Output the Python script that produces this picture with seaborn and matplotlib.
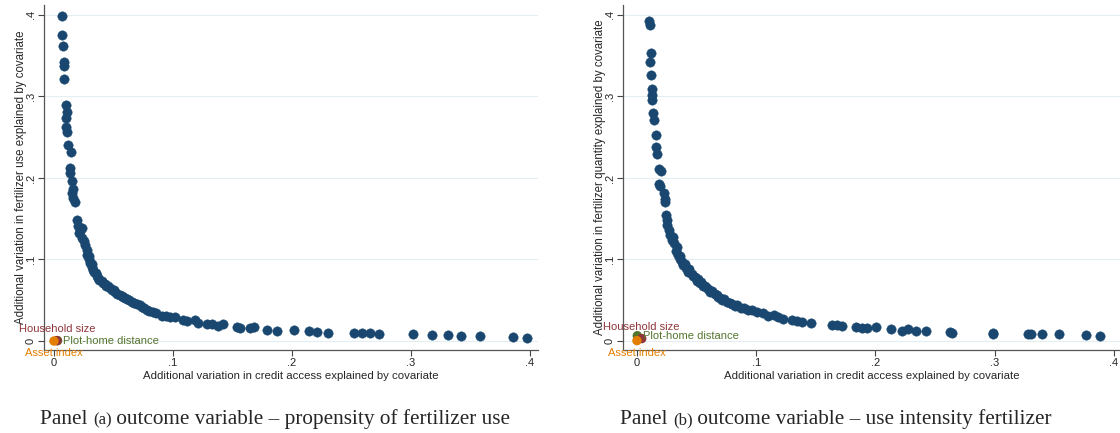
"""
plot.py
    Recreates the two-panel sensitivity scatter (credit access vs fertilizer outcomes)
"""
# =============================
# Libraries
# =============================

import pandas as pd
import matplotlib
matplotlib.use("Agg")
import matplotlib.pyplot as plt
import seaborn as sns

# =============================
# Data
# =============================

# Panel (a) : fertilizer use
credit_a = [
    0.0065, 0.0070, 0.0073, 0.0082, 0.0084, 0.0082, 0.0101, 0.0107, 0.0098, 0.0101,
    0.0112, 0.0118, 0.0140, 0.0134, 0.0134, 0.0149, 0.0157, 0.0154, 0.0162, 0.0176,
    0.0191, 0.0204, 0.0233, 0.0210, 0.0233, 0.0252, 0.0275, 0.0280, 0.0297, 0.0303,
    0.0317, 0.0330, 0.0350, 0.0372, 0.0401, 0.0429, 0.0456, 0.0485, 0.0513, 0.0555,
    0.0582, 0.0611, 0.0653, 0.0695, 0.0737, 0.0779, 0.0834, 0.0905, 0.0975, 0.1017,
    0.1087, 0.0220, 0.0260, 0.0290, 0.0320, 0.0340, 0.0360, 0.0380, 0.0410, 0.0440,
    0.0470, 0.0500, 0.0530, 0.0570, 0.0600, 0.0630, 0.0670, 0.0720, 0.0760, 0.0800,
    0.0860, 0.0940,
    0.1115, 0.1185, 0.1213, 0.1283, 0.1325, 0.1381, 0.1423, 0.1535, 0.1563, 0.1647,
    0.1681, 0.1792, 0.1871, 0.2017, 0.2139, 0.2214, 0.2303, 0.2523, 0.2590, 0.2658,
    0.2731, 0.3019, 0.3175, 0.3313, 0.3416, 0.3582, 0.3860, 0.3975,
]
fert_a = [
    0.399, 0.375, 0.362, 0.342, 0.337, 0.321, 0.290, 0.281, 0.273, 0.263,
    0.256, 0.240, 0.232, 0.212, 0.206, 0.196, 0.187, 0.182, 0.175, 0.171,
    0.148, 0.141, 0.138, 0.132, 0.126, 0.123, 0.112, 0.106, 0.101, 0.096,
    0.091, 0.087, 0.083, 0.077, 0.073, 0.070, 0.067, 0.063, 0.060, 0.056,
    0.054, 0.051, 0.048, 0.046, 0.042, 0.038, 0.035, 0.031, 0.030, 0.029,
    0.026, 0.135, 0.118, 0.104, 0.094, 0.085, 0.080, 0.075, 0.071, 0.068,
    0.065, 0.062, 0.058, 0.055, 0.053, 0.050, 0.047, 0.044, 0.040, 0.037,
    0.034, 0.031,
    0.0245, 0.0252, 0.0217, 0.0209, 0.0209, 0.0188, 0.0205, 0.0175, 0.0156, 0.0156,
    0.0175, 0.0135, 0.0129, 0.0135, 0.0117, 0.0114, 0.0104, 0.0094, 0.0094, 0.0094,
    0.0082, 0.0082, 0.0074, 0.0074, 0.0067, 0.0058, 0.0049, 0.0043,
]

# Panel (b) : fertilizer quantity
credit_b = [
    0.0103, 0.0109, 0.0115, 0.0109, 0.0115, 0.0123, 0.0128, 0.0128, 0.0134, 0.0140,
    0.0157, 0.0159, 0.0165, 0.0187, 0.0199, 0.0187, 0.0193, 0.0226, 0.0235, 0.0235,
    0.0241, 0.0249, 0.0254, 0.0271, 0.0277, 0.0291, 0.0313, 0.0333, 0.0324, 0.0346,
    0.0360, 0.0375, 0.0388, 0.0408, 0.0430, 0.0459, 0.0486, 0.0500, 0.0528, 0.0556,
    0.0584, 0.0612, 0.0654, 0.0681, 0.0715, 0.0752, 0.0794, 0.0836, 0.0933, 0.0300,
    0.0360, 0.0400, 0.0440, 0.0470, 0.0510, 0.0540, 0.0570, 0.0600, 0.0630, 0.0670,
    0.0700, 0.0730, 0.0780, 0.0820, 0.0870, 0.0900,
    0.0961, 0.1003, 0.1059, 0.1101, 0.1148, 0.1184, 0.1226, 0.1297, 0.1339, 0.1381,
    0.1459, 0.1632, 0.1679, 0.1716, 0.1836, 0.1884, 0.1925, 0.2003, 0.2127, 0.2219,
    0.2274, 0.2339, 0.2420, 0.2624, 0.2638, 0.2987, 0.2987, 0.3280, 0.3303, 0.3397,
    0.3537, 0.3761, 0.3881,
]
fert_b = [
    0.392, 0.388, 0.353, 0.342, 0.326, 0.309, 0.302, 0.295, 0.279, 0.271,
    0.253, 0.238, 0.229, 0.211, 0.208, 0.193, 0.190, 0.182, 0.174, 0.171,
    0.155, 0.148, 0.142, 0.136, 0.130, 0.124, 0.120, 0.115, 0.110, 0.106,
    0.101, 0.097, 0.093, 0.089, 0.085, 0.082, 0.079, 0.074, 0.071, 0.067,
    0.065, 0.060, 0.058, 0.054, 0.050, 0.048, 0.046, 0.044, 0.038, 0.127,
    0.104, 0.095, 0.088, 0.080, 0.076, 0.072, 0.068, 0.063, 0.061, 0.056,
    0.053, 0.051, 0.047, 0.043, 0.041, 0.040,
    0.0380, 0.0360, 0.0340, 0.0307, 0.0319, 0.0291, 0.0266, 0.0258, 0.0249, 0.0237,
    0.0225, 0.0196, 0.0196, 0.0184, 0.0175, 0.0156, 0.0156, 0.0168, 0.0147, 0.0126,
    0.0147, 0.0126, 0.0123, 0.0107, 0.0094, 0.0102, 0.0086, 0.0086, 0.0092, 0.0082,
    0.0082, 0.0074, 0.0065,
]

# Observed covariates (labelled points near the origin)
cov_names = ["Plot-home distance", "Household size", "Asset index"]
cov_credit_a = [0.0030, 0.0025, 0.0000]
cov_fert_a = [0.0005, 0.0005, 0.0000]
cov_credit_b = [0.0003, 0.0040, 0.0000]
cov_fert_b = [0.0065, 0.0030, 0.0005]

x_ticks = [0, 0.1, 0.2, 0.3, 0.4]
tick_labels = ["0", ".1", ".2", ".3", ".4"]

x_title = "Additional variation in credit access explained by covariate"
y_title_a = "Additional variation in fertilizer use explained by covariate"
y_title_b = "Additional variation in fertilizer quantity explained by covariate"

caption_a = ("Panel ", "(a)", " outcome variable \u2013 propensity of fertilizer use")
caption_b = ("Panel ", "(b)", " outcome variable \u2013 use intensity fertilizer")

# =============================
# Styles (Stata s2color)
# =============================

NAVY = "#1a476f"
COV_COLORS = {"Plot-home distance": "#55752f", "Household size": "#90353b", "Asset index": "#e37e00"}
# position of each label around its point (offset in points, ha, va)
COV_LABEL_POS = {
    "Household size": ((0, 5), "center", "bottom"),
    "Plot-home distance": ((4, 0), "left", "center"),
    "Asset index": ((0, -5), "center", "top"),
}

sns.set_style("white")
plt.rcParams["font.family"] = ["Liberation Sans", "DejaVu Sans"]


def plot_panel(ax, credit, fert, cov_x, cov_y, y_title, xlim):
    """Draw one panel: cloud of simulated confounders + labelled covariates."""
    df = pd.DataFrame({"credit": credit, "fert": fert})
    sns.scatterplot(data=df, x="credit", y="fert", color=NAVY, s=46,
                    edgecolor=NAVY, linewidth=0.3, ax=ax, zorder=3)

    # covariates near the origin (green first so orange stays on top)
    cov = pd.DataFrame({"name": cov_names, "credit": cov_x, "fert": cov_y})
    sns.scatterplot(data=cov, x="credit", y="fert", hue="name", palette=COV_COLORS,
                    s=46, edgecolor="none", legend=False, ax=ax, zorder=4)
    for _, row in cov.iterrows():
        offset, ha, va = COV_LABEL_POS[row["name"]]
        ax.annotate(row["name"], (row["credit"], row["fert"]), xytext=offset,
                    textcoords="offset points", ha=ha, va=va, fontsize=8,
                    color=COV_COLORS[row["name"]], zorder=5)

    # axes, ticks and grid
    ax.set_xlim(*xlim)
    ax.set_ylim(-0.011, 0.412)
    ax.set_xticks(x_ticks)
    ax.set_xticklabels(tick_labels)
    ax.set_yticks(x_ticks)
    ax.set_yticklabels(tick_labels, rotation=90, va="center")
    ax.tick_params(axis="both", direction="out", length=4, width=0.8,
                   color="#444444", labelsize=8, pad=2, left=True, bottom=True)
    ax.yaxis.grid(True, color="#e4edf1", linewidth=0.8)
    ax.xaxis.grid(False)
    ax.set_axisbelow(True)

    for side in ["top", "right"]:
        ax.spines[side].set_visible(False)
    for side in ["left", "bottom"]:
        ax.spines[side].set_color("#555555")
        ax.spines[side].set_linewidth(0.9)

    ax.set_xlabel(x_title, fontsize=8.2, labelpad=2)
    ax.set_ylabel(y_title, fontsize=8.3, labelpad=-1)


def add_caption(fig, x_px, parts, sizes=(15.3, 12, 15.3)):
    """Caption in serif on one baseline, the panel letter in a smaller size."""
    serif = ["Liberation Serif", "DejaVu Serif"]
    renderer = fig.canvas.get_renderer()
    x = x_px
    for part, size in zip(parts, sizes):
        t = fig.text(x / 1120, 9 / 433, part, fontsize=size, family=serif,
                     va="baseline", ha="left")
        x += t.get_window_extent(renderer).width


fig = plt.figure(figsize=(11.2, 4.33), dpi=100)

ax_a = fig.add_axes([44 / 1120, 83 / 433, (538 - 44) / 1120, 345 / 433])
ax_b = fig.add_axes([623 / 1120, 83 / 433, (1120 - 623) / 1120, 345 / 433])

plot_panel(ax_a, credit_a, fert_a, cov_credit_a, cov_fert_a, y_title_a, (-0.0084, 0.4067))
plot_panel(ax_b, credit_b, fert_b, cov_credit_b, cov_fert_b, y_title_b, (-0.0117, 0.405))

add_caption(fig, 40, caption_a)
add_caption(fig, 620, caption_b)

fig.savefig("out.png", dpi=100)
